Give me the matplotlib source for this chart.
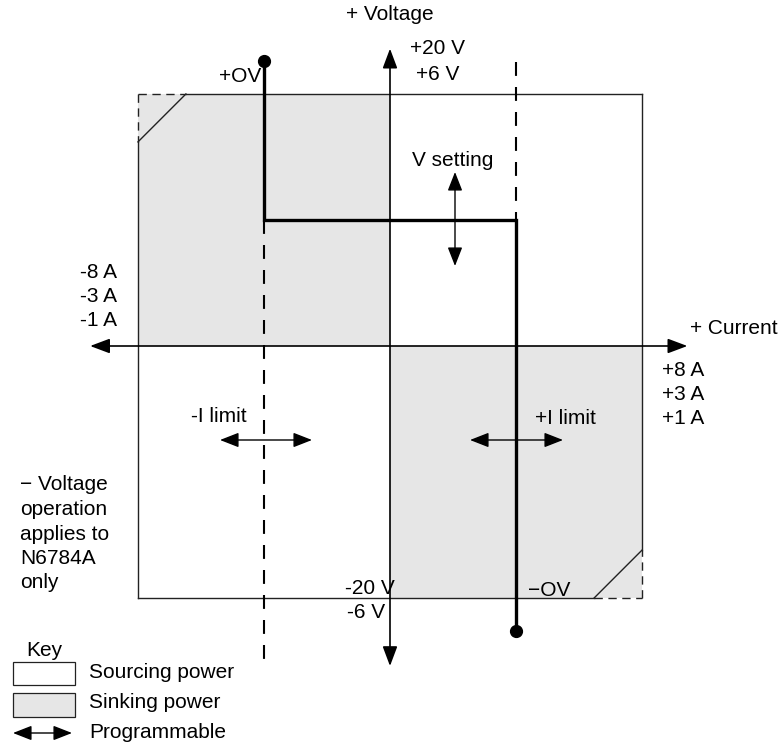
import matplotlib
matplotlib.use("Agg")
import matplotlib.pyplot as plt
from matplotlib.patches import Rectangle

plt.rcParams['font.family'] = ['Liberation Sans', 'DejaVu Sans']
plt.rcParams['lines.scale_dashes'] = False

# ---- data (normalized current / voltage units; box edge = 1) ----
box_edge = 1.0
corner_cut = 0.19
current_limits = [-0.5, 0.5]
v_setting = 0.5
ov_levels = [1.13, -1.13]
current_axis = [-1.19, 1.18]
voltage_axis = [-1.27, 1.18]
neg_limit_dash_bottom = -1.246
pos_limit_dash_top = 1.127

pos_v_labels = ["+20 V", "+6 V"]
neg_v_labels = ["-20 V", "-6 V"]
pos_i_labels = ["+8 A", "+3 A", "+1 A"]
neg_i_labels = ["-8 A", "-3 A", "-1 A"]
note_lines = ["\u2212 Voltage", "operation", "applies to", "N6784A", "only"]
key_labels = ["Sourcing power", "Sinking power", "Programmable"]

W, H = 782, 746
OX, OY, S = 390, 346, 252
GRAY = "#e6e6e6"
FS = 15

fig = plt.figure(figsize=(W / 100, H / 100), dpi=100)
ax = fig.add_axes([0, 0, 1, 1])
ax.set_xlim(-OX / S, (W - OX) / S)
ax.set_ylim((OY - H) / S, OY / S)
ax.axis("off")


def P(px, py):
    return ((px - OX) / S, (OY - py) / S)


def txt(px, py, s, ha="center", va="center", **kw):
    x, y = P(px, py)
    ax.text(x, y, s, ha=ha, va=va, fontsize=FS, **kw)


b, c = box_edge, corner_cut
# gray (sinking) quadrants
ax.add_patch(Rectangle((-b, 0), b, b, facecolor=GRAY, edgecolor="none", zorder=1))
ax.add_patch(Rectangle((0, -b), b, b, facecolor=GRAY, edgecolor="none", zorder=1))

# box outline with cut corners
edge_kw = dict(color="#222222", lw=1.0, zorder=2)
ax.plot([-b + c, b], [b, b], **edge_kw)
ax.plot([b, b], [b, -b + c], **edge_kw)
ax.plot([b - c, -b], [-b, -b], **edge_kw)
ax.plot([-b, -b], [-b, b - c], **edge_kw)
ax.plot([-b, -b + c], [b - c, b], **edge_kw)
ax.plot([b - c, b], [-b, -b + c], **edge_kw)
cdash = dict(color="#222222", lw=1.0, dashes=[6, 4], zorder=2)
ax.plot([-b, -b + c], [b, b], **cdash)
ax.plot([-b, -b], [b, b - c], **cdash)
ax.plot([b - c, b], [-b, -b], **cdash)
ax.plot([b, b], [-b, -b + c], **cdash)

# dashed limit lines
dl = dict(color="black", lw=1.5, dashes=[10, 8], zorder=3)
ax.plot([current_limits[0], current_limits[0]], [v_setting, neg_limit_dash_bottom], **dl)
ax.plot([current_limits[1], current_limits[1]], [pos_limit_dash_top, v_setting], **dl)

# axes arrows
big = "<|-|>,head_length=1.2,head_width=0.45"
ax.annotate("", xy=(current_axis[1], 0), xytext=(current_axis[0], 0),
            arrowprops=dict(arrowstyle=big, color="black", lw=1.2,
                            shrinkA=0, shrinkB=0, mutation_scale=10), zorder=4)
ax.annotate("", xy=(0, voltage_axis[1]), xytext=(0, voltage_axis[0]),
            arrowprops=dict(arrowstyle=big, color="black", lw=1.2,
                            shrinkA=0, shrinkB=0, mutation_scale=10), zorder=4)

# heavy operating line
xs = [current_limits[0], current_limits[0], current_limits[1], current_limits[1]]
ys = [ov_levels[0], v_setting, v_setting, ov_levels[1]]
ax.plot(xs, ys, color="black", lw=2.4, solid_joinstyle="miter", zorder=5)
ax.plot([current_limits[0], current_limits[1]], ov_levels, "o", color="black",
        ms=8.5, zorder=6, linestyle="none")

# programmable arrows
small = "<|-|>,head_length=1.15,head_width=0.45"
sk = dict(arrowstyle=small, color="black", lw=1.0, shrinkA=0, shrinkB=0, mutation_scale=10)
ax.annotate("", xy=P(455, 172), xytext=P(455, 266), arrowprops=sk, zorder=7)
ax.annotate("", xy=P(220, 440), xytext=P(312, 440), arrowprops=sk, zorder=7)
ax.annotate("", xy=P(470, 440), xytext=P(563, 440), arrowprops=sk, zorder=7)

# labels
txt(390, 14, "+ Voltage")
txt(437, 48, pos_v_labels[0])
txt(438, 74, pos_v_labels[1])
txt(240, 77, "+OV")
txt(453, 161, "V setting")
for i, s in enumerate(neg_i_labels):
    txt(80, 273 + 24 * i, s, ha="left")
txt(690, 329, "+ Current", ha="left")
for i, s in enumerate(pos_i_labels):
    txt(662, 370 + 24 * i, s, ha="left")
txt(219, 416, "-I limit")
txt(565, 418, "+I limit")
for i, s in enumerate(note_lines):
    txt(20, 485 + 24.5 * i, s, ha="left")
txt(370, 588, neg_v_labels[0])
txt(366, 612, neg_v_labels[1])
txt(528, 590, "\u2212OV", ha="left")

# key
txt(44, 650, "Key")
x0, y0 = P(13, 685)
x1, y1 = P(75, 662)
ax.add_patch(Rectangle((x0, y0), x1 - x0, y1 - y0, facecolor="white",
                       edgecolor="#222222", lw=0.9, zorder=2))
x0, y0 = P(13, 717)
x1, y1 = P(75, 693)
ax.add_patch(Rectangle((x0, y0), x1 - x0, y1 - y0, facecolor=GRAY,
                       edgecolor="#222222", lw=0.9, zorder=2))
ax.annotate("", xy=P(13, 733), xytext=P(72, 733), arrowprops=sk, zorder=7)
txt(89, 673, key_labels[0], ha="left")
txt(89, 703, key_labels[1], ha="left")
txt(89, 733, key_labels[2], ha="left")

fig.savefig("out.png", dpi=100)
